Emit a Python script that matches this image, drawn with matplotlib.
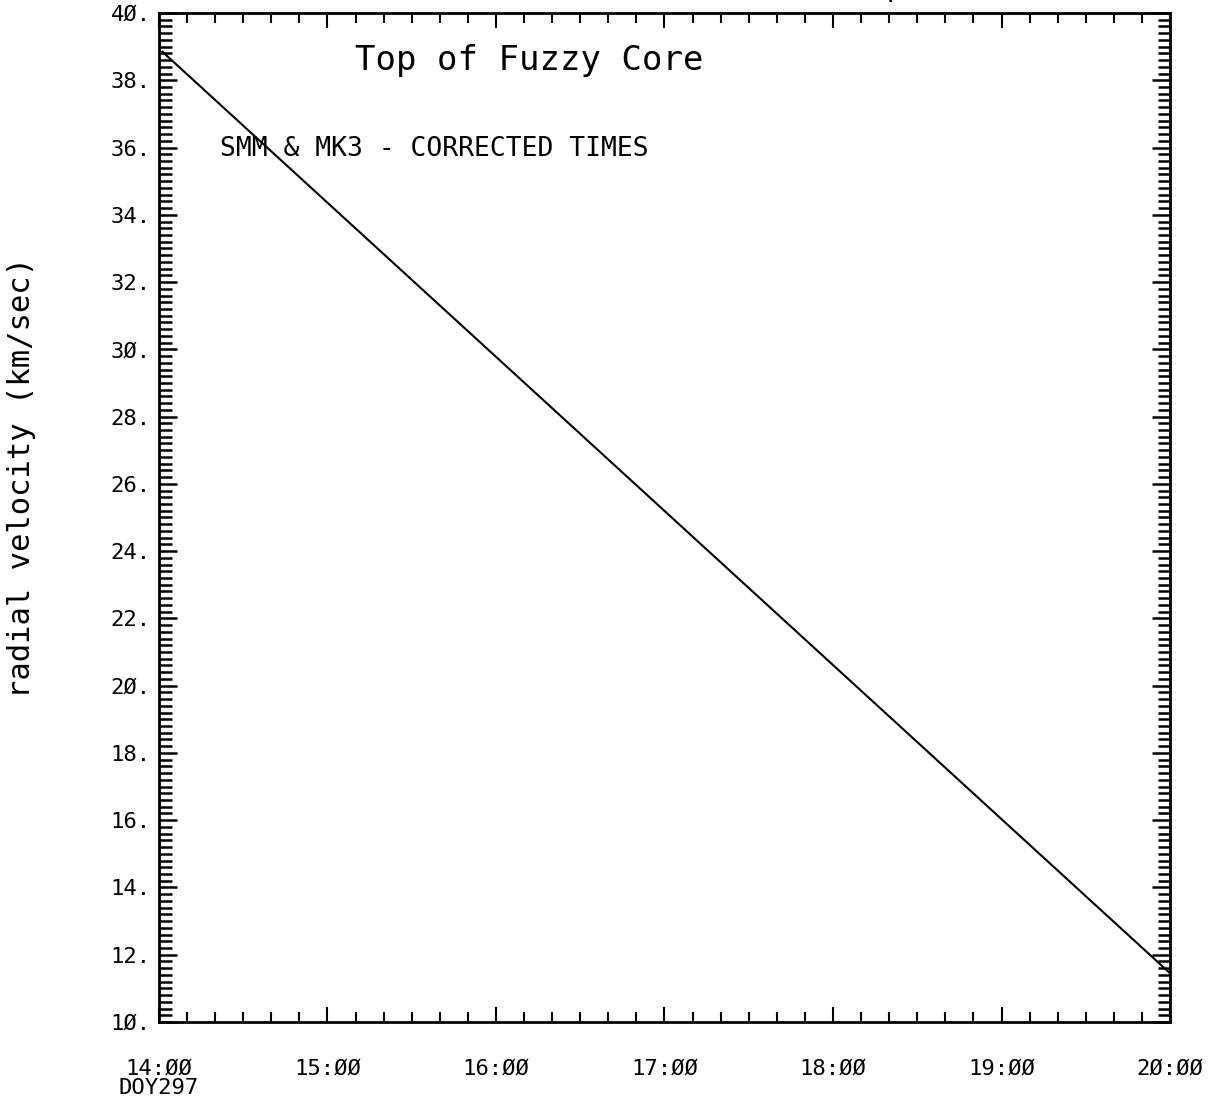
import matplotlib
matplotlib.use("Agg")
import matplotlib.pyplot as plt
from matplotlib.ticker import MultipleLocator, FixedLocator

# ---- data ----
line_hours = [14.02, 20.0]           # decimal hours, DOY297
line_velocity = [38.85, 11.45]       # km/sec

x_tick_vals = [14, 15, 16, 17, 18, 19, 20]
x_tick_labels = ["14:ØØ\nDOY297", "15:ØØ", "16:ØØ", "17:ØØ", "18:ØØ", "19:ØØ", "2Ø:ØØ"]
y_tick_vals = list(range(10, 41, 2))
y_tick_labels = ["1Ø.", "12.", "14.", "16.", "18.", "2Ø.", "22.", "24.", "26.", "28.",
                 "3Ø.", "32.", "34.", "36.", "38.", "4Ø."]

title_text = "Top of Fuzzy Core"
note_text = "SMM & MK3 - CORRECTED TIMES"
ylabel_text = "radial velocity (km/sec)"
corner_text = "data points"

mono = ["DejaVu Sans Mono"]

fig = plt.figure(figsize=(12.17, 11.0), dpi=100)
ax = fig.add_axes([0.1306, 0.0709, 0.8308, 0.9173])

ax.plot(line_hours, line_velocity, color="black", linewidth=1.5)

ax.set_xlim(14, 20)
ax.set_ylim(10, 40)

ax.xaxis.set_major_locator(FixedLocator(x_tick_vals))
ax.xaxis.set_minor_locator(MultipleLocator(10 / 60))
ax.yaxis.set_major_locator(FixedLocator(y_tick_vals))
ax.yaxis.set_minor_locator(MultipleLocator(0.2))
ax.set_xticklabels(x_tick_labels, family=mono, fontsize=16)
ax.set_yticklabels(y_tick_labels, family=mono, fontsize=16)
for lab in ax.get_xticklabels():
    lab.set_linespacing(0.95)

ax.tick_params(which="both", direction="in", top=True, right=True, color="black")
ax.tick_params(axis="x", which="major", length=11, width=1.5, pad=26.5)
ax.tick_params(axis="x", which="minor", length=7.5, width=1.5)
ax.tick_params(axis="y", which="major", length=13, width=1.8, pad=6)
ax.tick_params(axis="y", which="minor", length=9, width=1.8)

for s in ax.spines.values():
    s.set_linewidth(2)
    s.set_color("black")

ax.text(16.2, 38.6, title_text, fontsize=24.5, family=mono, ha="center", va="center")
ax.text(14.36, 35.95, note_text, fontsize=19, family=mono, ha="left", va="center")

fig.text(0.018, 0.566, ylabel_text, rotation=90, fontsize=22, family=mono,
         ha="center", va="center")
fig.text(0.66, 1.0 + 4 / 1100, corner_text, fontsize=20, family=mono,
         ha="left", va="baseline")

fig.savefig("out.png", dpi=100)
